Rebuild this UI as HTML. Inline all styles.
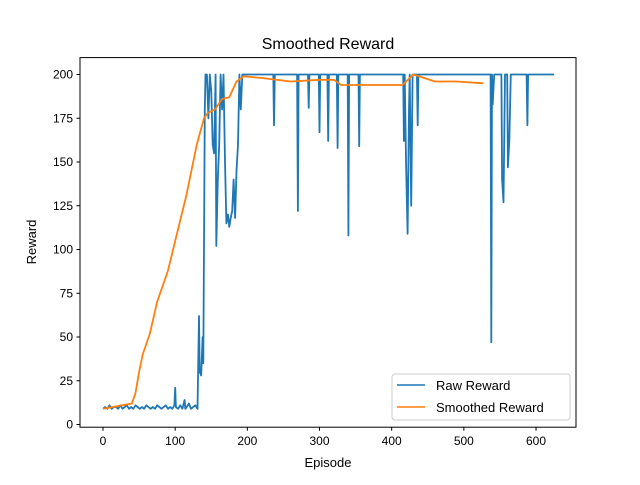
<!DOCTYPE html>
<html><head><meta charset="utf-8"><style>
body{margin:0;background:#fff}
svg{font-family:"Liberation Sans","DejaVu Sans",sans-serif}
</style></head><body>
<svg id="chart" width="640" height="480">
<rect width="640" height="480" fill="#fff"/>
<text x="328" y="49" font-size="16" text-anchor="middle">Smoothed Reward</text>
<g id="plot"></g>
<rect x="80" y="57.6" width="496" height="369.6" fill="none" stroke="#000" stroke-width="1"/>
<g id="xt"></g><g id="yt"></g>
<text x="328" y="467" font-size="13" text-anchor="middle">Episode</text>
<text transform="translate(36,242) rotate(-90)" font-size="13" text-anchor="middle">Reward</text>
<g>
<rect x="392" y="374" width="178" height="46" rx="3" fill="#fff" stroke="#ccc"/>
<g><line x1="397" y1="385" x2="425" y2="385" stroke="#1f77b4" stroke-width="1.5"/><text x="436" y="390" font-size="13">Raw Reward</text></g>
<g><line x1="397" y1="407" x2="425" y2="407" stroke="#ff7f0e" stroke-width="1.5"/><text x="436" y="412" font-size="13">Smoothed Reward</text></g>
</g>
</svg>
<script>
const rawEpisodes=[0,3,6,9,12,15,18,21,24,27,30,33,36,39,42,45,48,51,54,57,60,63,66,69,72,75,78,81,84,87,90,93,96,99,100,101,104,107,110,113,114,116,119,122,125,128,131,133,134,136,138,139,141,142,144,146,148,150,152,154,156,157,159,161,163,165,167,169,171,173,175,177,179,181,183,185,187,189,191,193,236,237,238,269,270,271,284,285,286,299,300,301,311,312,313,324,325,326,339,340,341,354,355,356,416,417,418,420,422,424,425,427,429,435,436,437,537,538,539,540,542,544,552,553,555,557,560,561,563,565,587,588,589,625];
const rawValues=[9,10,9,11,9,10,10,9,11,9,10,11,9,10,9,11,10,9,10,9,11,10,9,10,9,11,10,9,10,11,9,10,9,11,21,10,9,11,9,14,9,10,12,9,10,11,9,62,30,28,50,35,180,200,200,175,200,190,160,155,200,102,140,160,200,180,200,150,115,120,113,118,122,140,118,145,160,200,180,200,200,171,200,200,122,200,200,181,200,200,167,200,200,162,200,200,158,200,200,108,200,200,159,200,200,162,200,148,109,180,200,125,200,200,171,200,200,47,200,183,200,200,200,140,127,200,200,147,162,200,200,171,200,200];
const smEpisodes=[0,40,45,50,55,65,75,90,100,115,130,140,145,155,165,175,185,195,220,260,300,320,330,350,415,425,430,445,460,490,527];
const smValues=[9,12,18,30,40,52,70,88,105,130,160,175,178,180,186,187,196,199,198,196,197,197,194,194,194,198,200,198,196,196,195];
const xTicks=[0,100,200,300,400,500,600];
const yTicks=[0,25,50,75,100,125,150,175,200];
const X=e=>103+e*0.7217, Y=v=>424.5-v*1.75;
const NS="http://www.w3.org/2000/svg";
const plot=document.getElementById('plot');
function line(xs,ys,color,name){
  const p=document.createElementNS(NS,'polyline');
  p.setAttribute('points',xs.map((e,i)=>X(e).toFixed(1)+','+Y(ys[i]).toFixed(1)).join(' '));
  p.setAttribute('fill','none');p.setAttribute('stroke',color);p.setAttribute('stroke-width','1.8');p.setAttribute('stroke-linejoin','round');
  
  
  plot.appendChild(p);
}
line(rawEpisodes,rawValues,'#1f77b4','raw-reward-line');
line(smEpisodes,smValues,'#ff7f0e','smoothed-reward-line');
const xt=document.getElementById('xt');
xTicks.forEach(t=>{
  const g=document.createElementNS(NS,'g');
  
  
  g.innerHTML=`<line x1="${X(t)}" y1="427.2" x2="${X(t)}" y2="430.7" stroke="#000"/><text x="${X(t)}" y="445" font-size="12" text-anchor="middle">${t}</text>`;
  xt.appendChild(g);
});
const yt=document.getElementById('yt');
yTicks.forEach(t=>{
  const g=document.createElementNS(NS,'g');
  
  
  g.innerHTML=`<line x1="76.5" y1="${Y(t)}" x2="80" y2="${Y(t)}" stroke="#000"/><text x="73" y="${Y(t)+4}" font-size="12" text-anchor="end">${t}</text>`;
  yt.appendChild(g);
});
</script>
</body></html>
